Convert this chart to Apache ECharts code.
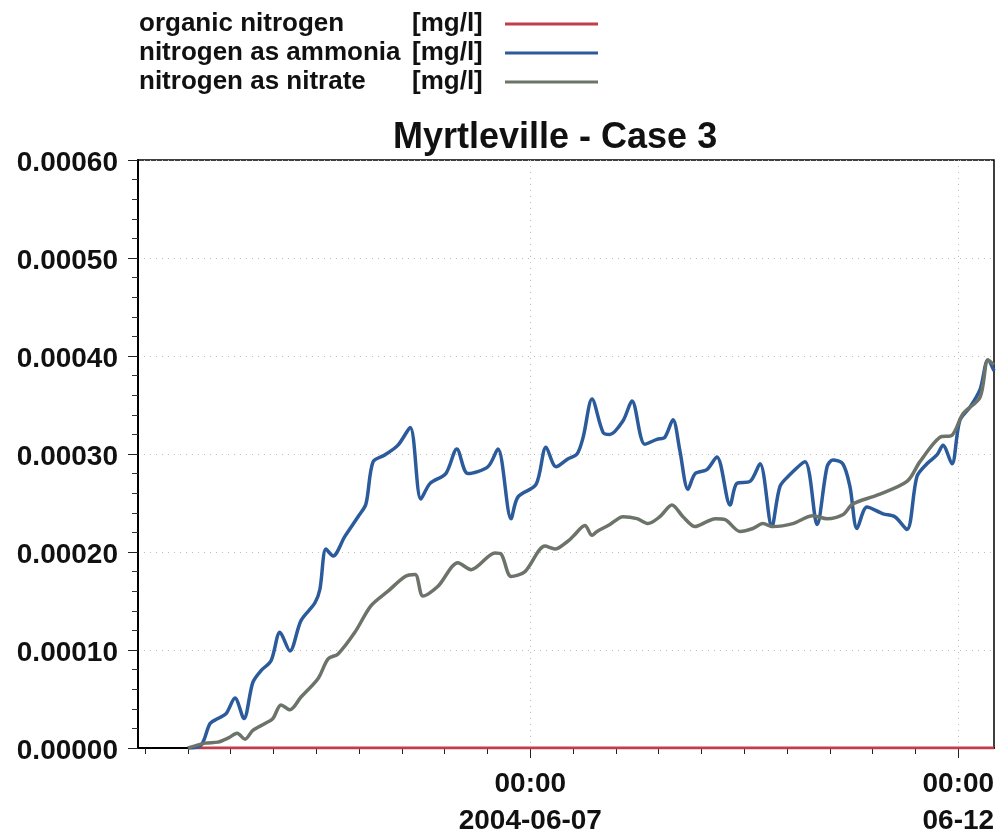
<!DOCTYPE html>
<html>
<head>
<meta charset="utf-8">
<title>Myrtleville - Case 3</title>
<script src="https://cdn.jsdelivr.net/npm/echarts@6/dist/echarts.min.js"></script>
<style>
  html, body { margin: 0; padding: 0; background: #fff; }
  #chart { width: 1000px; height: 840px; }
</style>
</head>
<body>
<div id="chart"></div>
<script>
// Time is given in hours after 2004-06-02 00:00.
const seriesNames = [
  'organic nitrogen',
  'nitrogen as ammonia',
  'nitrogen as nitrate'
];
const unitLabel = '[mg/l]';

const organicHours = [24, 60, 120, 180, 250];
const organic = [0, 0, 0, 0, 0];

const ammoniaHours = [24, 27.7, 30.2, 32.4, 34.7, 37.2, 39.7, 42.2, 44.5, 47.3,
  49.8, 52.6, 55.7, 59.6, 61.0, 62.7, 64.7, 68.0, 71.7, 73.9,
  75.9, 79.2, 82.9, 86.3, 89.3, 91.9, 96.3, 99.4, 102.5, 108.1,
  110.9, 114.6, 116.5, 121.6, 124.4, 127.2, 130.5, 133.1, 134.8, 137.3,
  140.4, 142.3, 146.0, 148.5, 152.1, 155.5, 157.7, 160.0, 161.9, 164.2,
  166.2, 169.5, 172.3, 176.0, 177.9, 181.6, 184.4, 187.7, 190.0, 192.8,
  197.0, 200.4, 203.2, 204.8, 207.6, 209.6, 211.6, 214.4, 218.9, 222.2,
  225.6, 228.4, 231.2, 234.0, 235.7, 238.2, 240.4, 243.3, 246.1, 248.3, 250];
const ammonia = [0, 0.000003, 0.000025, 0.000030, 0.000035, 0.000051, 0.000030, 0.000067, 0.000079, 0.000089,
  0.000118, 0.000099, 0.000130, 0.000148, 0.000162, 0.000203, 0.000196, 0.000216, 0.000236, 0.000249,
  0.000292, 0.000299, 0.000309, 0.000327, 0.000254, 0.000270, 0.000280, 0.000305, 0.000280, 0.000287,
  0.000305, 0.000234, 0.000256, 0.000269, 0.000307, 0.000287, 0.000295, 0.000300, 0.000317, 0.000356,
  0.000322, 0.000320, 0.000334, 0.000354, 0.000310, 0.000315, 0.000317, 0.000335, 0.000304, 0.000264,
  0.000280, 0.000284, 0.000297, 0.000248, 0.000270, 0.000272, 0.000290, 0.000226, 0.000267, 0.000279,
  0.000292, 0.000228, 0.000287, 0.000294, 0.000290, 0.000267, 0.000224, 0.000246, 0.000239, 0.000236,
  0.000223, 0.000277, 0.000290, 0.000299, 0.000309, 0.000290, 0.000334, 0.000348, 0.000366, 0.000396, 0.000385];

const nitrateHours = [24, 28.8, 32.4, 35.2, 37.8, 40.0, 42.2, 45.6, 47.8, 50.1,
  52.6, 55.7, 60.5, 63.3, 66.1, 70.8, 75.3, 80.1, 84.9, 87.7,
  89.9, 94.1, 99.7, 103.4, 110.1, 111.8, 114.6, 118.5, 124.1, 126.9,
  130.5, 132.0, 135.3, 137.3, 138.7, 142.3, 146.0, 149.9, 153.0, 156.3,
  159.7, 162.8, 166.2, 169.5, 171.8, 174.6, 178.8, 182.4, 185.2, 188.0,
  193.6, 199.2, 203.2, 207.6, 210.4, 217.2, 225.6, 229.2, 234.8, 238.2,
  241.3, 246.1, 248.3, 250];
const nitrate = [0, 0.000005, 0.000006, 0.000010, 0.000015, 0.000009, 0.000018, 0.000025, 0.000030, 0.000044,
  0.000039, 0.000052, 0.000071, 0.000091, 0.000096, 0.000118, 0.000145, 0.000160, 0.000175, 0.000177,
  0.000155, 0.000165, 0.000189, 0.000182, 0.000199, 0.000198, 0.000175, 0.000180, 0.000206, 0.000203,
  0.000211, 0.000216, 0.000227, 0.000217, 0.000221, 0.000228, 0.000236, 0.000234, 0.000229, 0.000236,
  0.000248, 0.000236, 0.000226, 0.000231, 0.000234, 0.000233, 0.000221, 0.000224, 0.000229, 0.000226,
  0.000229, 0.000237, 0.000234, 0.000238, 0.000249, 0.000258, 0.000272, 0.000292, 0.000317, 0.000319,
  0.000341, 0.000358, 0.000396, 0.000391];

// Axis ticks and labels
const xMinHour = 10, xMaxHour = 250;
const xTickHours = [12, 24, 36, 48, 60, 72, 84, 96, 108, 120, 132, 144, 156, 168, 180, 192, 204, 216, 228, 240];
const xLabelHours = [120, 240];
const xLabelTexts = ['00:00\n2004-06-07', '00:00\n06-12'];
const yMin = 0, yMax = 0.0006, yStep = 0.0001;

const colors = ['#c23c4c', '#2b5b9b', '#6c746a'];
const FONT = '"Liberation Sans", Arial, sans-serif';

const zip = (xs, ys) => xs.map((x, i) => [x, ys[i]]);
const dataSets = [zip(organicHours, organic), zip(ammoniaHours, ammonia), zip(nitrateHours, nitrate)];

const chart = echarts.init(document.getElementById('chart'), null, { renderer: 'canvas' });

const legendToken = { fontFamily: FONT, fontSize: 26, fontWeight: 'bold', color: '#111', lineHeight: 26, align: 'left' };

chart.setOption({
  animation: false,
  backgroundColor: '#ffffff',
  title: {
    text: 'Myrtleville - Case 3',
    left: 388,
    top: 115,
    textStyle: { fontFamily: FONT, fontSize: 36, fontWeight: 'bold', color: '#111' }
  },
  legend: {
    orient: 'vertical',
    left: 139,
    top: 11,
    padding: 0,
    align: 'right',
    itemGap: 3,
    itemWidth: 93,
    itemHeight: 3,
    icon: 'rect',
    selectedMode: false,
    data: seriesNames.map((n, i) => ({ name: n, itemStyle: { color: colors[i] } })),
    formatter: name => '{n|' + name + '}{u|' + unitLabel + '}',
    textStyle: {
      fontFamily: FONT,
      fontSize: 26,
      fontWeight: 'bold',
      color: '#111',
      rich: {
        n: Object.assign({ width: 273 }, legendToken),
        u: Object.assign({ width: 88 }, legendToken)
      }
    }
  },
  grid: {
    left: 138, right: 6, top: 160, bottom: 87,
    show: true, borderColor: '#000', borderWidth: 1.5, backgroundColor: 'transparent'
  },
  xAxis: [
    {
      type: 'value',
      min: xMinHour,
      max: xMaxHour,
      position: 'bottom',
      axisLine: { show: true, onZero: false, lineStyle: { color: '#000', width: 2 } },
      axisTick: { show: true, customValues: xTickHours, length: 6, lineStyle: { color: '#222', width: 1 } },
      axisLabel: {
        customValues: xLabelHours,
        formatter: v => {
          const i = xLabelHours.indexOf(v);
          return i >= 0 ? xLabelTexts[i] : '';
        },
        margin: 18,
        fontFamily: FONT, fontSize: 28, fontWeight: 'bold', color: '#111', lineHeight: 37
      },
      splitLine: { show: false }
    },
    {
      type: 'value',
      min: xMinHour,
      max: xMaxHour,
      position: 'bottom',
      axisLine: { show: false },
      axisTick: { show: true, customValues: xLabelHours, length: 10, lineStyle: { color: '#222', width: 1 } },
      axisLabel: { show: false },
      splitLine: { show: true, lineStyle: { color: '#bdbdbd', type: [1, 5], width: 1 } }
    }
  ],
  yAxis: {
    type: 'value',
    min: yMin,
    max: yMax,
    interval: yStep,
    axisLine: { show: true, lineStyle: { color: '#000', width: 2 } },
    axisTick: { show: true, length: 10, lineStyle: { color: '#222', width: 1 } },
    minorTick: { show: true, splitNumber: 5, length: 6, lineStyle: { color: '#333', width: 1 } },
    axisLabel: {
      formatter: v => v.toFixed(5),
      margin: 20,
      verticalAlign: 'top',
      lineHeight: 6,
      fontFamily: FONT, fontSize: 28, fontWeight: 'bold', color: '#111'
    },
    splitLine: { show: true, lineStyle: { color: '#bdbdbd', type: [1, 5], width: 1 } }
  },
  series: seriesNames.map((name, i) => ({
    name: name,
    type: 'line',
    xAxisIndex: 0,
    data: dataSets[i],
    showSymbol: false,
    smooth: i === 0 ? false : 0.3,
    clip: true,
    z: 3 + i,
    lineStyle: { color: colors[i], width: i === 0 ? 3 : 3.5 },
    itemStyle: { color: colors[i] }
  }))
});
</script>
</body>
</html>
